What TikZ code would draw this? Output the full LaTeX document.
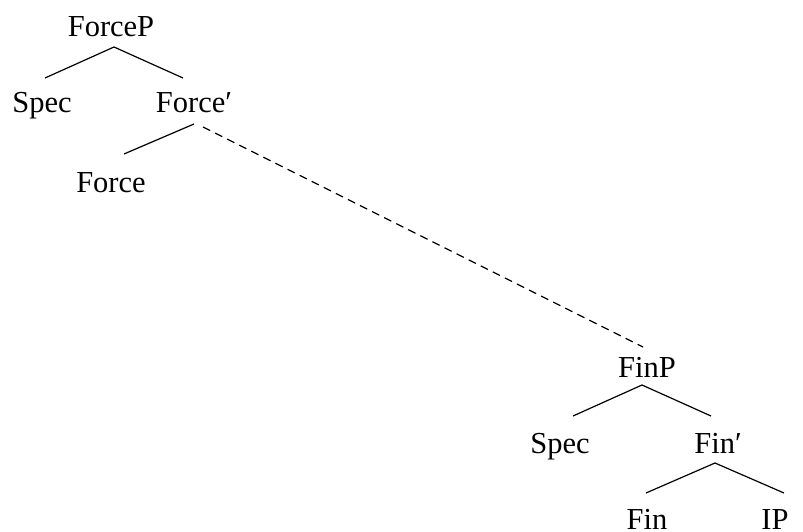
\documentclass[tikz,border=0pt]{standalone}
\usepackage{fontspec}
\setmainfont{Liberation Serif}
\begin{document}
\begin{tikzpicture}[x=1pt,y=-1pt,
  lbl/.style={anchor=base,inner sep=0pt,font=\fontsize{30.5}{35}\selectfont},
  br/.style={line width=1.2pt},
  dsh/.style={line width=1.2pt,dash pattern=on 8pt off 5.5pt}]
\useasboundingbox (0,0) rectangle (803,532);
\node[lbl] (ForceP) at (111,37) {ForceP};
\node[lbl] (SpecA) at (42,113) {Spec};
\node[lbl] (ForceBar) at (194,113) {Force′};
\node[lbl] (Force) at (111,192) {Force};
\node[lbl] (FinP) at (647,377) {FinP};
\node[lbl] (SpecB) at (560,453) {Spec};
\node[lbl] (FinBar) at (718,453) {Fin′};
\node[lbl] (Fin) at (647,529.5) {Fin};
\node[lbl] (IP) at (775,529.5) {IP};
\draw[br] ([xshift=3pt,yshift=-10pt]ForceP.base) -- ([xshift=3pt,yshift=35pt]SpecA.base);
\draw[br] ([xshift=3pt,yshift=-10pt]ForceP.base) -- ([xshift=-11pt,yshift=35pt]ForceBar.base);
\draw[br] ([xshift=0pt,yshift=-11pt]ForceBar.base) -- ([xshift=13pt,yshift=38pt]Force.base);
\draw[dsh] ([xshift=9pt,yshift=-14pt]ForceBar.base) -- ([xshift=-4pt,yshift=30pt]FinP.base);
\draw[br] ([xshift=-5pt,yshift=-8pt]FinP.base) -- ([xshift=13pt,yshift=37pt]SpecB.base);
\draw[br] ([xshift=-5pt,yshift=-8pt]FinP.base) -- ([xshift=-7pt,yshift=37pt]FinBar.base);
\draw[br] ([xshift=-3pt,yshift=-10pt]FinBar.base) -- ([xshift=-1pt,yshift=36.5pt]Fin.base);
\draw[br] ([xshift=-3pt,yshift=-10pt]FinBar.base) -- ([xshift=9pt,yshift=36.5pt]IP.base);
\end{tikzpicture}
\end{document}
